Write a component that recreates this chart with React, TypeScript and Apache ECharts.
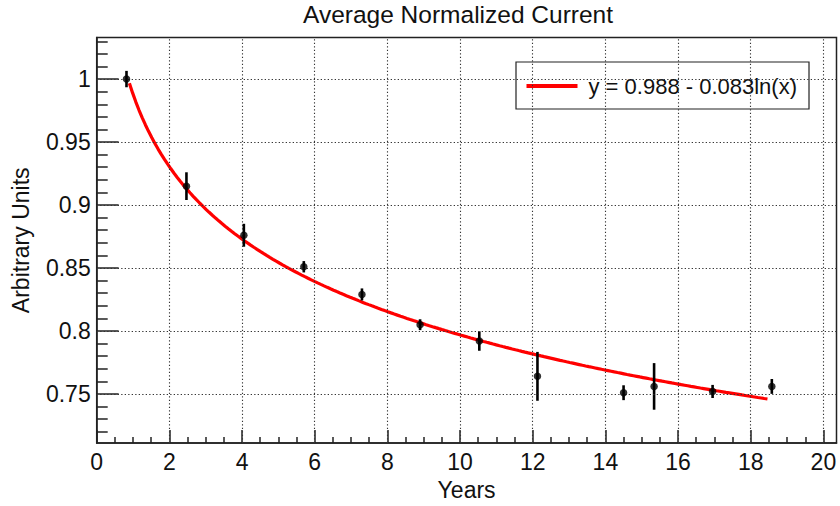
import React, { useEffect, useRef } from "react";
import * as echarts from "echarts";

// ---- data ----
const xYears = [0.82, 2.47, 4.05, 5.7, 7.3, 8.9, 10.53, 12.13, 14.5, 15.34, 16.95, 18.58];
const yValues = [1.0, 0.915, 0.876, 0.851, 0.829, 0.805, 0.792, 0.764, 0.751, 0.756, 0.752, 0.756];
const yErrors = [0.0065, 0.011, 0.0091, 0.0045, 0.0048, 0.0043, 0.0077, 0.0194, 0.0059, 0.0185, 0.0052, 0.0059];

// fit shown in the legend: y = a - b ln(x)
const fitA = 0.988;
const fitB = 0.083;
const fitXStart = 0.9;
const fitXEnd = 18.46;
const fitLabel = "y = 0.988 - 0.083ln(x)";

const xMajorTicks = [0, 2, 4, 6, 8, 10, 12, 14, 16, 18, 20];
const xMinorTicks = [
  0.5, 1, 1.5, 2.5, 3, 3.5, 4.5, 5, 5.5, 6.5, 7, 7.5, 8.5, 9, 9.5, 10.5, 11, 11.5,
  12.5, 13, 13.5, 14.5, 15, 15.5, 16.5, 17, 17.5, 18.5, 19, 19.5,
];
const yMajorTicks = [0.75, 0.8, 0.85, 0.9, 0.95, 1];
const yMinorTicks = [
  0.72, 0.73, 0.74, 0.76, 0.77, 0.78, 0.79, 0.81, 0.82, 0.83, 0.84, 0.86, 0.87, 0.88,
  0.89, 0.91, 0.92, 0.93, 0.94, 0.96, 0.97, 0.98, 0.99, 1.01, 1.02, 1.03,
];

const X_MIN = 0;
const X_MAX = 20.36;
const Y_MIN = 0.711;
const Y_MAX = 1.033;

const FONT = '"Liberation Sans", Arial, Helvetica, sans-serif';
const INK = "#222";

export default function App() {
  const ref = useRef<HTMLDivElement>(null);

  useEffect(() => {
    if (!ref.current) return;
    const chart = echarts.init(ref.current, undefined, { renderer: "svg" });

    const points = xYears.map((x, i) => [x, yValues[i], yErrors[i]]);
    const fitPts: number[][] = [];
    const n = 200;
    for (let i = 0; i <= n; i++) {
      const x = fitXStart + ((fitXEnd - fitXStart) * i) / n;
      fitPts.push([x, fitA - fitB * Math.log(x)]);
    }

    const gridLines = [
      ...xMajorTicks.filter((v) => v > X_MIN).map((v) => ({ xAxis: v })),
      ...yMajorTicks.map((v) => ({ yAxis: v })),
    ];

    chart.setOption({
      animation: false,
      backgroundColor: "#fff",
      title: {
        text: "Average Normalized Current",
        left: 303,
        top: 2,
        padding: 0,
        textStyle: { fontSize: 24.5, fontWeight: "normal", color: "#111", fontFamily: FONT },
      },
      legend: {
        left: 516,
        top: 62,
        padding: [13, 12, 12, 10.5],
        borderColor: INK,
        borderWidth: 1.2,
        backgroundColor: "#fff",
        itemWidth: 51,
        itemHeight: 4,
        icon: "rect",
        selectedMode: false,
        textStyle: { fontSize: 22, color: "#111", fontFamily: FONT, padding: [0, 0, 0, 6] },
        data: [{ name: fitLabel, icon: "rect" }],
      },
      grid: {
        left: 96.7,
        right: 3.5,
        top: 37.5,
        bottom: 56,
        show: true,
        borderColor: INK,
        borderWidth: 1.5,
        backgroundColor: "transparent",
      },
      xAxis: [
        {
          type: "value",
          min: X_MIN,
          max: X_MAX,
          position: "bottom",
          name: "Years",
          nameLocation: "middle",
          nameGap: 30,
          nameTextStyle: { fontSize: 23, color: "#111", fontFamily: FONT },
          axisLine: { show: true, lineStyle: { color: INK, width: 1.5 } },
          axisTick: { inside: true, length: 13, customValues: xMajorTicks, lineStyle: { color: INK, width: 1.5 } },
          axisLabel: { customValues: xMajorTicks, fontSize: 23, color: "#111", fontFamily: FONT, margin: 7 },
          splitLine: { show: false },
        },
        {
          type: "value",
          min: X_MIN,
          max: X_MAX,
          position: "bottom",
          axisLine: { show: false },
          axisTick: { inside: true, length: 6, customValues: xMinorTicks, lineStyle: { color: INK, width: 1.5 } },
          axisLabel: { show: false },
          splitLine: { show: false },
        },
      ],
      yAxis: [
        {
          type: "value",
          min: Y_MIN,
          max: Y_MAX,
          position: "left",
          name: "Arbitrary Units",
          nameLocation: "middle",
          nameRotate: 90,
          nameGap: 64,
          nameTextStyle: { fontSize: 23, color: "#111", fontFamily: FONT },
          axisLine: { show: true, lineStyle: { color: INK, width: 1.5 } },
          axisTick: { inside: true, length: 22, customValues: yMajorTicks, lineStyle: { color: INK, width: 1.5 } },
          axisLabel: { customValues: yMajorTicks, fontSize: 23, color: "#111", fontFamily: FONT, margin: 6 },
          splitLine: { show: false },
        },
        {
          type: "value",
          min: Y_MIN,
          max: Y_MAX,
          position: "left",
          axisLine: { show: false },
          axisTick: { inside: true, length: 11, customValues: yMinorTicks, lineStyle: { color: INK, width: 1.5 } },
          axisLabel: { show: false },
          splitLine: { show: false },
        },
      ],
      series: [
        {
          name: "grid",
          type: "line",
          xAxisIndex: 0,
          yAxisIndex: 0,
          data: [],
          symbol: "none",
          silent: true,
          z: 1,
          markLine: {
            silent: true,
            symbol: ["none", "none"],
            label: { show: false },
            emphasis: { disabled: true },
            lineStyle: { type: [1.3, 2.2], color: "#333", width: 1.1 },
            data: gridLines,
          },
        },
        {
          name: fitLabel,
          type: "line",
          xAxisIndex: 0,
          yAxisIndex: 0,
          data: fitPts,
          showSymbol: false,
          symbol: "none",
          smooth: false,
          color: "#ff0000",
          lineStyle: { color: "#ff0000", width: 3.2 },
          z: 3,
        },
        {
          name: "errors",
          type: "custom",
          xAxisIndex: 0,
          yAxisIndex: 0,
          data: points,
          encode: { x: 0, y: 1 },
          renderItem: (_params: any, api: any) => {
            const x = api.value(0);
            const y = api.value(1);
            const e = api.value(2);
            const p1 = api.coord([x, y - e]);
            const p2 = api.coord([x, y + e]);
            return {
              type: "line",
              shape: { x1: p1[0], y1: p1[1], x2: p2[0], y2: p2[1] },
              style: { stroke: "#000", lineWidth: 2.6 },
            };
          },
          z: 4,
        },
        {
          name: "points",
          type: "scatter",
          xAxisIndex: 0,
          yAxisIndex: 0,
          data: points.map((p) => [p[0], p[1]]),
          symbol: "circle",
          symbolSize: 7.5,
          itemStyle: { color: "#000" },
          z: 5,
        },
      ],
    });

    return () => {
      chart.dispose();
    };
  }, []);

  return (
    <div
      ref={ref}
      style={{ position: "fixed", left: 0, top: 0, width: 840, height: 506, background: "#fff" }}
    />
  );
}
